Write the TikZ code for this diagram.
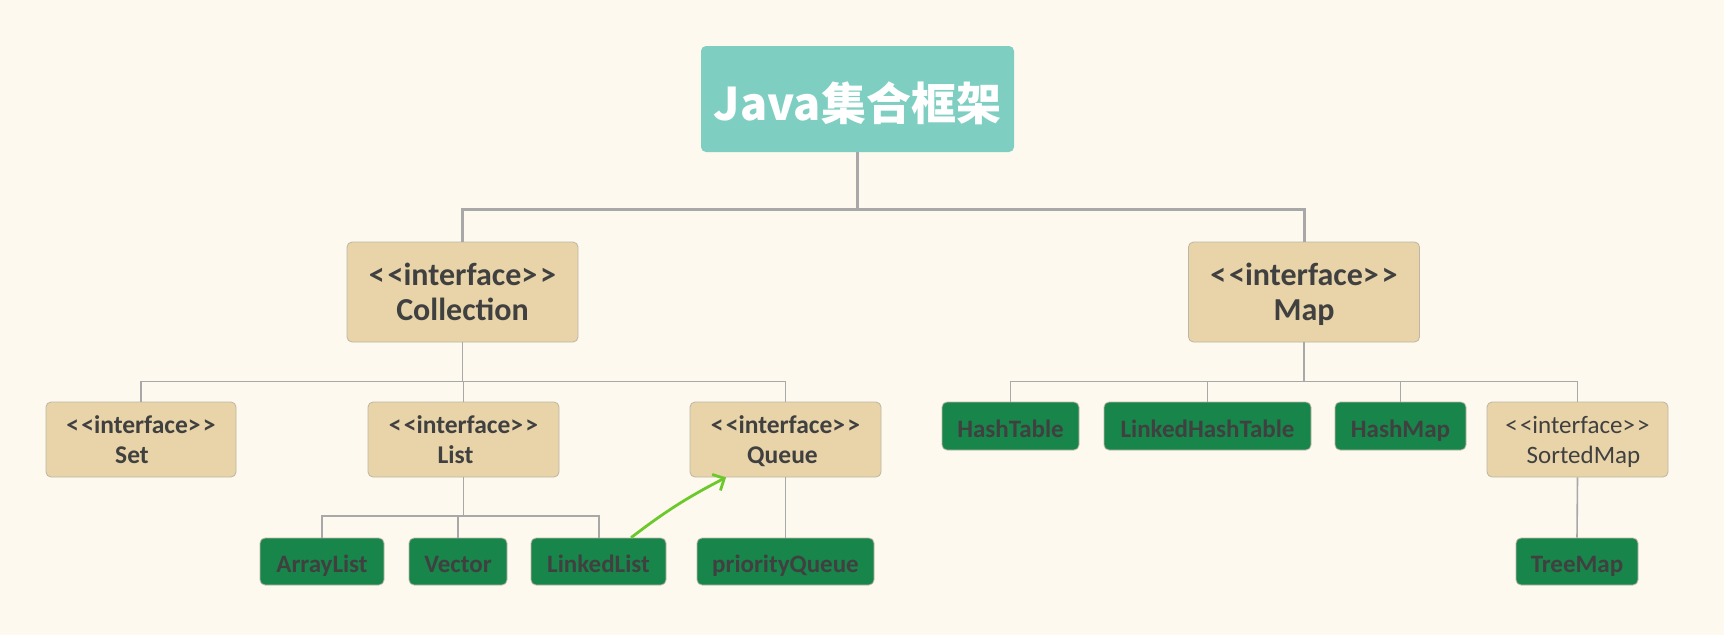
\documentclass[tikz,border=0pt]{standalone}
\usepackage{fontspec}
\setmainfont{Carlito}
\newfontfamily\cjk{Noto Sans CJK SC}
\usetikzlibrary{arrows.meta,calc}
\definecolor{bgc}{HTML}{FDF9EE}
\definecolor{tanc}{HTML}{E8D4A8}
\definecolor{tanb}{HTML}{BDB6A6}
\definecolor{grn}{HTML}{18854A}
\definecolor{txt}{HTML}{404040}
\definecolor{teal}{HTML}{7FCEC2}
\definecolor{wire}{HTML}{A8A8A8}
\definecolor{arr}{HTML}{6CC92C}
\newcommand\ifc{<\kern0.09em<interface>\kern0.09em>}
% two centred lines; the second one has its depth removed
\newcommand\twol[2]{\vbox{\halign{\hfil##\hfil\cr #1\cr \raisebox{0pt}[\height][0pt]{#2}\cr}}}
\tikzset{
  box/.style={rectangle, rounded corners=5pt, inner sep=0pt, text=txt},
  ibig/.style={box, fill=tanc, draw=tanb, line width=0.8pt, minimum width=231pt, minimum height=100pt,
    font=\bfseries\fontsize{32}{35.5}\selectfont},
  imid/.style={box, fill=tanc, draw=tanb, line width=0.8pt, minimum height=75pt,
    font=\bfseries\fontsize{25.5}{29.5}\selectfont},
  cls/.style={box, fill=grn, draw=tanb, line width=0.8pt, minimum height=48pt,
    text height=22pt, text depth=0pt, font=\bfseries\fontsize{25}{28}\selectfont},
  wire/.style={draw=wire, line width=1.6pt},
  wirethick/.style={draw=wire, line width=3pt},
}
\begin{document}
\begin{tikzpicture}[x=1pt,y=-1pt]
\useasboundingbox (0,0) rectangle (1724,635);
\fill[bgc] (0,0) rectangle (1724,635);

\node[box, fill=teal, text=white, minimum width=313pt, minimum height=106pt,
  text height=43pt, text depth=0pt,
  font=\cjk\bfseries\fontsize{45}{50}\selectfont] (java) at (857.5,99) {Java集合框架};

\node[ibig] (coll) at (462.5,292) {\twol{\ifc}{Collection}};
\node[ibig] (map) at (1304,292) {\twol{\ifc}{Map}};

\node[imid, minimum width=190pt] (set) at (141,439.5) {\twol{\ifc}{Set\kern18pt}};
\node[imid, minimum width=191pt] (list) at (463.5,439.5) {\twol{\ifc}{List\kern16pt}};
\node[imid, minimum width=191pt] (queue) at (785.5,439.5) {\twol{\ifc}{Queue\kern6pt}};
\node[imid, minimum width=181pt, font=\fontsize{25}{30}\selectfont] (sorted) at (1577.5,439.5) {\twol{\ifc}{\kern12pt SortedMap}};

\node[cls, minimum width=137pt] (htab) at (1010.5,426) {HashTable};
\node[cls, minimum width=207pt] (lht) at (1207.5,426) {LinkedHashTable};
\node[cls, minimum width=131pt] (hmap) at (1400.5,426) {HashMap};

\node[cls, minimum width=124pt, minimum height=47pt, text height=21pt] (alist) at (322,561.5) {ArrayList};
\node[cls, minimum width=98pt, minimum height=47pt, text height=21pt] (vec) at (458,561.5) {Vector};
\node[cls, minimum width=135pt, minimum height=47pt, text height=21pt] (llist) at (598.5,561.5) {LinkedList};
\node[cls, minimum width=177pt, minimum height=47pt, text height=21pt] (pq) at (785.5,561.5) {priorityQueue};
\node[cls, minimum width=122pt, minimum height=47pt, text height=21pt] (tmap) at (1577,561.5) {TreeMap};

% top level
\coordinate (b1) at (857.5,209);
\draw[wirethick] (java.south) -- (b1);
\draw[wirethick] (coll.north) |- (b1) -| (map.north);

% collection children
\coordinate (b2) at (462.5,381.5);
\draw[wire] (coll.south) -- (b2);
\draw[wire] (set.north) |- (b2) -| (queue.north);
\draw[wire] (list.north) -- (list.north |- b2);

% list children
\coordinate (b3) at (463.5,515.7);
\draw[wire] (list.south) -- (b3);
\draw[wire] (alist.north) |- (b3) -| ([xshift=0.5pt]llist.north);
\draw[wire] (vec.north) -- (vec.north |- b3);

% queue child
\draw[wire] (queue.south) -- (pq.north);

% map children
\coordinate (b4) at (1304,381.5);
\draw[wire] (map.south) -- (b4);
\draw[wire] (htab.north) |- (b4) -| (sorted.north);
\draw[wire] (lht.north) -- (lht.north |- b4);
\draw[wire] (hmap.north) -- (hmap.north |- b4);

% sorted child
\draw[wire] (sorted.south) -- (tmap.north);

% green arrow
\coordinate (as) at ($(llist.north west)!0.74!(llist.north east)$);
\coordinate (ae) at ($(queue.south west)!0.19!(queue.south east)$);
\draw[arr, line width=2.8pt, -{Straight Barb[length=9pt,width=18pt,line width=2.8pt]}] (as) to[bend left=5] (ae);
\end{tikzpicture}
\end{document}
